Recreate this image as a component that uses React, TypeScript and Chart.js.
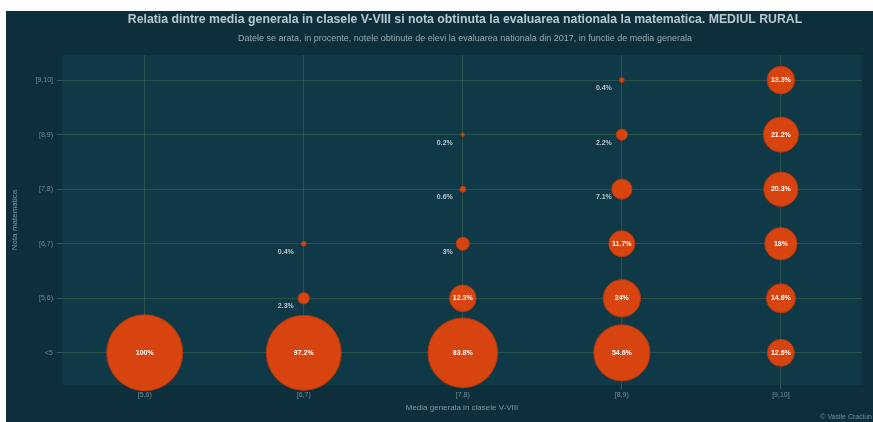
import React, { useEffect, useRef } from "react";
import { Chart, registerables } from "chart.js";

Chart.register(...registerables);

const titleText =
  "Relatia dintre media generala in clasele V-VIII si nota obtinuta la evaluarea nationala la matematica. MEDIUL RURAL";
const subtitleText =
  "Datele se arata, in procente, notele obtinute de elevi la evaluarea nationala din 2017, in functie de media generala";
const captionText = "© Vasile Craciun";
const xTitle = "Media generala in clasele V-VIII";
const yTitle = "Nota matematica";

const mediaCategories = ["[5,6)", "[6,7)", "[7,8)", "[8,9)", "[9,10]"];
const notaCategories = ["<5", "[5,6)", "[6,7)", "[7,8)", "[8,9)", "[9,10]"];

// share (%) of each nota category, from the lowest upward, per media group
const share56 = [100];
const share67 = [97.2, 2.3, 0.4];
const share78 = [83.8, 12.3, 3, 0.6, 0.2];
const share89 = [54.6, 24, 11.7, 7.1, 2.2, 0.4];
const share910 = [12.6, 14.6, 18, 20.3, 21.2, 13.3];
const sharesByMedia = [share56, share67, share78, share89, share910];

const W = 867;
const H = 411;
const OUTER_BG = "#0c2f3b";
const PANEL_BG = "#0f3946";
const GRID = "rgba(110,150,100,0.28)";
const TICK_TXT = "#6f8f99";
const BUBBLE = "#d8440f";
const FONT = "'Liberation Sans', Arial, sans-serif";

export default function App() {
  const ref = useRef<HTMLCanvasElement | null>(null);

  useEffect(() => {
    if (!ref.current) return;
    const points = sharesByMedia.flatMap((arr, xi) =>
      arr.map((v, yi) => ({ x: xi, y: yi, v }))
    );

    const panelPlugin = {
      id: "panel",
      beforeDraw(chart: any) {
        const { ctx, chartArea } = chart;
        ctx.save();
        ctx.fillStyle = OUTER_BG;
        ctx.fillRect(0, 0, chart.width, chart.height);
        ctx.fillStyle = PANEL_BG;
        ctx.fillRect(
          chartArea.left,
          chartArea.top,
          chartArea.right - chartArea.left,
          chartArea.bottom - chartArea.top
        );
        ctx.restore();
      },
    };

    const labelPlugin = {
      id: "bubbleLabels",
      afterDatasetsDraw(chart: any) {
        const { ctx } = chart;
        const meta = chart.getDatasetMeta(0);
        ctx.save();
        ctx.font = `bold 7px ${FONT}`;
        meta.data.forEach((el: any, i: number) => {
          const p = points[i];
          const txt = `${p.v}%`;
          if (p.v >= 10) {
            ctx.fillStyle = "#ffffff";
            ctx.textAlign = "center";
            ctx.textBaseline = "middle";
            ctx.fillText(txt, el.x, el.y);
          } else {
            ctx.fillStyle = "#b7c7cc";
            ctx.textAlign = "right";
            ctx.textBaseline = "middle";
            ctx.fillText(txt, el.x - 10, el.y + 8);
          }
        });
        ctx.restore();
      },
    };

    const textPlugin = {
      id: "texts",
      afterDraw(chart: any) {
        const { ctx } = chart;
        ctx.save();
        ctx.textAlign = "center";
        ctx.textBaseline = "middle";
        ctx.fillStyle = "#b9c9ce";
        ctx.font = `bold 12.3px ${FONT}`;
        ctx.fillText(titleText, 459, 9);
        ctx.fillStyle = "#93aab1";
        ctx.font = `9px ${FONT}`;
        ctx.fillText(subtitleText, 459, 28);
        ctx.textAlign = "right";
        ctx.fillStyle = "#6f8f99";
        ctx.font = `7px ${FONT}`;
        ctx.fillText(captionText, W - 1, 406);
        ctx.restore();
      },
    };

    const chart = new Chart(ref.current, {
      type: "bubble",
      data: {
        datasets: [
          {
            data: points as any,
            backgroundColor: BUBBLE,
            borderColor: "#b5380b",
            borderWidth: 1,
            clip: false,
            radius: (c: any) => {
              const raw = c.raw as { v: number };
              return raw ? 38 * Math.sqrt(raw.v / 100) : 0;
            },
          } as any,
        ],
      },
      options: {
        responsive: false,
        animation: false,
        devicePixelRatio: 1,
        layout: { autoPadding: false, padding: { top: 44, right: 11, left: 0, bottom: 0 } },
        plugins: {
          legend: { display: false },
          tooltip: { enabled: false },
          title: { display: false },
        },
        scales: {
          x: {
            type: "linear",
            min: -0.52,
            max: 4.51,
            afterBuildTicks: (s: any) => {
              s.ticks = mediaCategories.map((_, i) => ({ value: i }));
            },
            afterFit: (s: any) => {
              s.height = 37;
            },
            ticks: {
              callback: (v: any) => mediaCategories[Number(v)] ?? "",
              color: TICK_TXT,
              font: { size: 7, family: FONT },
              padding: 2,
              autoSkip: false,
              maxRotation: 0,
            },
            grid: { color: GRID, tickLength: 4, tickColor: "rgba(110,150,160,0.4)" },
            border: { display: false },
            title: {
              display: true,
              text: xTitle,
              color: "#7f9ba4",
              font: { size: 8, family: FONT },
              padding: { top: 0, bottom: 9 },
            },
          },
          y: {
            type: "linear",
            min: -0.59,
            max: 5.46,
            afterBuildTicks: (s: any) => {
              s.ticks = notaCategories.map((_, i) => ({ value: i }));
            },
            afterFit: (s: any) => {
              s.width = 56;
            },
            ticks: {
              callback: (v: any) => notaCategories[Number(v)] ?? "",
              color: TICK_TXT,
              font: { size: 7, family: FONT },
              padding: 4,
              autoSkip: false,
            },
            grid: { color: GRID, tickLength: 5, tickColor: "rgba(110,150,160,0.4)" },
            border: { display: false },
            title: {
              display: true,
              text: yTitle,
              color: "#7f9ba4",
              font: { size: 8, family: FONT },
              padding: { top: 4, bottom: 0 },
            },
          },
        },
      } as any,
      plugins: [panelPlugin, labelPlugin, textPlugin],
    });
    return () => chart.destroy();
  }, []);

  return (
    <div
      style={{
        position: "fixed",
        left: 6,
        top: 11,
        width: W,
        height: H,
        background: OUTER_BG,
      }}
    >
      <canvas ref={ref} width={W} height={H} style={{ display: "block" }} />
    </div>
  );
}
